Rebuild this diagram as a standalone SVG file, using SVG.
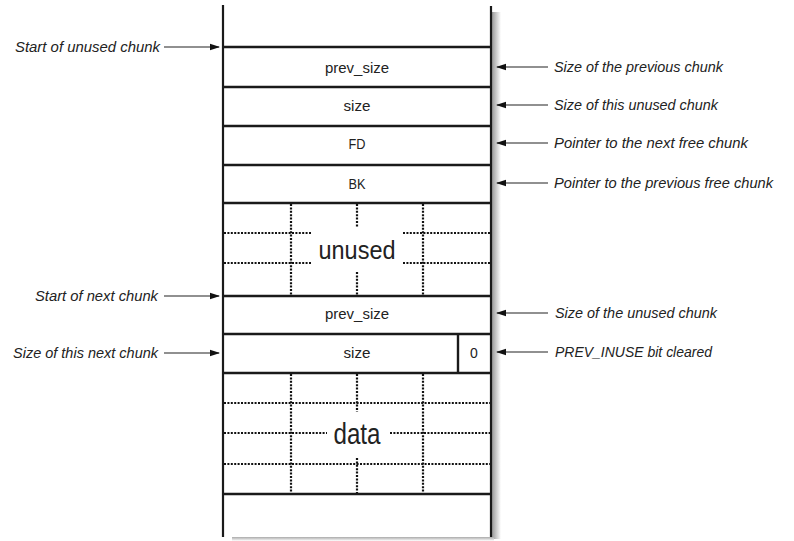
<svg xmlns="http://www.w3.org/2000/svg" width="794" height="541" viewBox="0 0 794 541">
<style>
.b{stroke:#1a1a1a;stroke-width:2.2;fill:none}
.h{stroke:#1a1a1a;stroke-width:2.4;fill:none}
.d{stroke:#111;stroke-width:2.2;stroke-dasharray:2 1.4;fill:none}
.a{stroke:#222;stroke-width:1.1;fill:none;marker-end:url(#ah)}
.c{font-family:"Liberation Sans",Arial,sans-serif;font-size:14px;fill:#222;text-anchor:middle}
.big{font-family:"Liberation Sans",Arial,sans-serif;fill:#222;text-anchor:middle}
.l{font-family:"Liberation Sans",Arial,sans-serif;font-size:14px;font-style:italic;fill:#222}
</style>
<defs>
<marker id="ah" markerWidth="10" markerHeight="8" refX="9" refY="4" orient="auto" markerUnits="userSpaceOnUse">
<path d="M0,0.8 L10,4 L0,7.2 Z" fill="#111"/>
</marker>
<linearGradient id="sh" x1="0" y1="0" x2="1" y2="0">
<stop offset="0" stop-color="#9a9a9a"/>
<stop offset="1" stop-color="#ffffff"/>
</linearGradient>
<linearGradient id="shb" x1="0" y1="0" x2="0" y2="1">
<stop offset="0" stop-color="#aaaaaa"/>
<stop offset="1" stop-color="#ffffff"/>
</linearGradient>
</defs>
<rect width="794" height="541" fill="#fff"/>
<rect x="492" y="12" width="9" height="527" fill="url(#sh)"/>
<rect x="232" y="537" width="262" height="4" fill="url(#shb)"/>

<g id="frame">
<line class="b" x1="223" y1="5" x2="223" y2="537"/>
<line class="b" x1="491" y1="6" x2="491" y2="537"/>
</g>

<g id="prev_size1">
<line class="h" x1="223" y1="47" x2="491" y2="47"/>
<text class="c" x="357" y="73" textLength="64" lengthAdjust="spacingAndGlyphs">prev_size</text>
</g>
<g id="size1">
<line class="h" x1="223" y1="87" x2="491" y2="87"/>
<text class="c" x="357" y="111" textLength="27" lengthAdjust="spacingAndGlyphs">size</text>
</g>
<g id="fd">
<line class="h" x1="223" y1="126" x2="491" y2="126"/>
<text class="c" x="357" y="149" textLength="17" lengthAdjust="spacingAndGlyphs">FD</text>
</g>
<g id="bk">
<line class="h" x1="223" y1="165" x2="491" y2="165"/>
<text class="c" x="357" y="189" textLength="17" lengthAdjust="spacingAndGlyphs">BK</text>
</g>
<g id="unused">
<line class="h" x1="223" y1="203" x2="491" y2="203"/>
<line class="d" x1="291" y1="204" x2="291" y2="295"/>
<line class="d" x1="423" y1="204" x2="423" y2="295"/>
<line class="d" x1="357" y1="204" x2="357" y2="227"/>
<line class="d" x1="357" y1="272" x2="357" y2="295"/>
<line class="d" x1="224" y1="233" x2="312" y2="233"/>
<line class="d" x1="403" y1="233" x2="490" y2="233"/>
<line class="d" x1="224" y1="263" x2="312" y2="263"/>
<line class="d" x1="403" y1="263" x2="490" y2="263"/>
<text class="big" x="357" y="259" font-size="26" textLength="77" lengthAdjust="spacingAndGlyphs">unused</text>
</g>
<g id="prev_size2">
<line class="h" x1="223" y1="296" x2="491" y2="296"/>
<text class="c" x="357" y="319" textLength="64" lengthAdjust="spacingAndGlyphs">prev_size</text>
</g>
<g id="size2">
<line class="h" x1="223" y1="334" x2="491" y2="334"/>
<line class="h" x1="458" y1="334" x2="458" y2="373"/>
<text class="c" x="357" y="358" textLength="27" lengthAdjust="spacingAndGlyphs">size</text>
<text class="c" x="474" y="358">0</text>
</g>
<g id="data">
<line class="h" x1="223" y1="373" x2="491" y2="373"/>
<line class="d" x1="291" y1="374" x2="291" y2="493"/>
<line class="d" x1="423" y1="374" x2="423" y2="493"/>
<line class="d" x1="357" y1="374" x2="357" y2="412"/>
<line class="d" x1="357" y1="458" x2="357" y2="493"/>
<line class="d" x1="224" y1="403" x2="490" y2="403"/>
<line class="d" x1="224" y1="433" x2="327" y2="433"/>
<line class="d" x1="390" y1="433" x2="490" y2="433"/>
<line class="d" x1="224" y1="464" x2="490" y2="464"/>
<text class="big" x="357" y="444" font-size="29" textLength="47" lengthAdjust="spacingAndGlyphs">data</text>
</g>
<g id="end">
<line class="h" x1="223" y1="494" x2="491" y2="494"/>
</g>

<g id="connectors">
<line class="a" x1="164" y1="47" x2="219" y2="47"/>
<line class="a" x1="164" y1="296" x2="219" y2="296"/>
<line class="a" x1="164" y1="353" x2="219" y2="353"/>
<line class="a" x1="548" y1="67" x2="497" y2="67"/>
<line class="a" x1="548" y1="105" x2="497" y2="105"/>
<line class="a" x1="548" y1="143" x2="497" y2="143"/>
<line class="a" x1="548" y1="183" x2="497" y2="183"/>
<line class="a" x1="548" y1="313" x2="497" y2="313"/>
<line class="a" x1="548" y1="352" x2="497" y2="352"/>
</g>

<g id="labels">
<text class="l" x="15" y="52" textLength="145" lengthAdjust="spacingAndGlyphs">Start of unused chunk</text>
<text class="l" x="35" y="301" textLength="123" lengthAdjust="spacingAndGlyphs">Start of next chunk</text>
<text class="l" x="13" y="358" textLength="145" lengthAdjust="spacingAndGlyphs">Size of this next chunk</text>
<text class="l" x="554" y="72" textLength="169" lengthAdjust="spacingAndGlyphs">Size of the previous chunk</text>
<text class="l" x="554" y="110" textLength="164" lengthAdjust="spacingAndGlyphs">Size of this unused chunk</text>
<text class="l" x="554" y="148" textLength="194" lengthAdjust="spacingAndGlyphs">Pointer to the next free chunk</text>
<text class="l" x="554" y="188" textLength="219" lengthAdjust="spacingAndGlyphs">Pointer to the previous free chunk</text>
<text class="l" x="555" y="318" textLength="162" lengthAdjust="spacingAndGlyphs">Size of the unused chunk</text>
<text class="l" x="555" y="357" textLength="157" lengthAdjust="spacingAndGlyphs">PREV_INUSE bit cleared</text>
</g>
</svg>
